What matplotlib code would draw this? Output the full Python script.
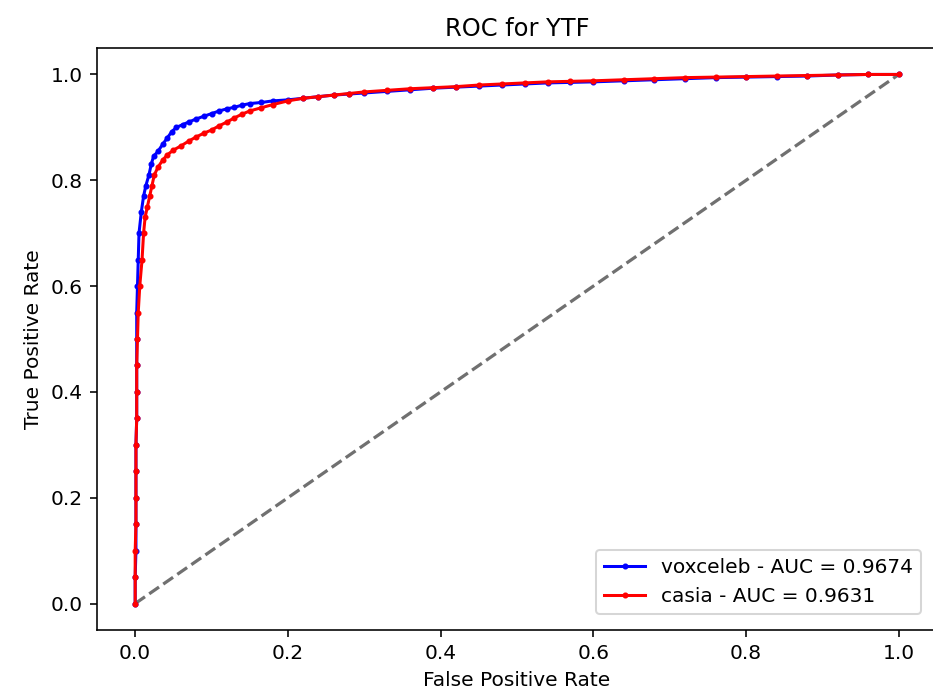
import matplotlib
matplotlib.use('Agg')
import matplotlib.pyplot as plt

# ROC points
vox_fpr = [0.000, 0.000, 0.001, 0.001, 0.001, 0.001, 0.001, 0.002, 0.002, 0.002,
           0.002, 0.002, 0.003, 0.004, 0.005, 0.008, 0.011, 0.014, 0.018, 0.021,
           0.024, 0.030, 0.036, 0.042, 0.048, 0.054, 0.062, 0.070, 0.080, 0.090,
           0.100, 0.110, 0.120, 0.130, 0.140, 0.150, 0.165, 0.180, 0.200, 0.220,
           0.240, 0.260, 0.280, 0.300, 0.330, 0.360, 0.390, 0.420, 0.450, 0.480,
           0.510, 0.540, 0.570, 0.600, 0.640, 0.680, 0.720, 0.760, 0.800, 0.840,
           0.880, 0.920, 0.960, 1.000]
vox_tpr = [0.000, 0.050, 0.100, 0.150, 0.200, 0.250, 0.300, 0.350, 0.400, 0.450,
           0.500, 0.550, 0.600, 0.650, 0.700, 0.740, 0.770, 0.790, 0.810, 0.830,
           0.845, 0.855, 0.868, 0.880, 0.892, 0.900, 0.905, 0.910, 0.916, 0.921,
           0.926, 0.931, 0.935, 0.938, 0.942, 0.945, 0.947, 0.950, 0.952, 0.955,
           0.958, 0.961, 0.963, 0.965, 0.968, 0.971, 0.974, 0.976, 0.978, 0.980,
           0.982, 0.984, 0.985, 0.986, 0.988, 0.990, 0.992, 0.994, 0.995, 0.996,
           0.997, 0.999, 1.000, 1.000]

casia_fpr = [0.000, 0.000, 0.000, 0.001, 0.001, 0.001, 0.001, 0.002, 0.002, 0.002,
             0.003, 0.004, 0.006, 0.009, 0.011, 0.013, 0.016, 0.019, 0.022, 0.025,
             0.030, 0.036, 0.042, 0.050, 0.060, 0.070, 0.080, 0.090, 0.100, 0.110,
             0.120, 0.130, 0.140, 0.150, 0.165, 0.180, 0.200, 0.220, 0.240, 0.260,
             0.280, 0.300, 0.330, 0.360, 0.390, 0.420, 0.450, 0.480, 0.510, 0.540,
             0.570, 0.600, 0.640, 0.680, 0.720, 0.760, 0.800, 0.840, 0.880, 0.920,
             0.960, 1.000]
casia_tpr = [0.000, 0.050, 0.100, 0.150, 0.200, 0.250, 0.300, 0.350, 0.400, 0.450,
             0.500, 0.550, 0.600, 0.650, 0.700, 0.730, 0.750, 0.770, 0.790, 0.810,
             0.825, 0.838, 0.848, 0.857, 0.865, 0.874, 0.882, 0.889, 0.895, 0.903,
             0.910, 0.918, 0.925, 0.931, 0.937, 0.943, 0.950, 0.955, 0.958, 0.961,
             0.964, 0.967, 0.970, 0.973, 0.975, 0.977, 0.980, 0.982, 0.984, 0.986,
             0.987, 0.988, 0.990, 0.992, 0.994, 0.995, 0.996, 0.997, 0.998, 0.999,
             1.000, 1.000]

vox_label = 'voxceleb - AUC = 0.9674'
casia_label = 'casia - AUC = 0.9631'

fig = plt.figure(figsize=(933 / 145, 694 / 145), dpi=145)
# the reference is cropped just before the right spine
ax = fig.add_axes([97 / 933, 64 / 694, 840 / 933, 582 / 694])
ax.spines['right'].set_visible(False)

ax.plot([0, 1], [0, 1], '--', color='#707070', lw=1.6)
ax.plot(vox_fpr, vox_tpr, '.-', color='blue', ms=4, label=vox_label)
ax.plot(casia_fpr, casia_tpr, '.-', color='red', ms=4, label=casia_label)

ax.set_xlim(-0.05, 1.05)
ax.set_ylim(-0.05, 1.05)
ax.set_title('ROC for YTF')
ax.set_xlabel('False Positive Rate')
ax.set_ylabel('True Positive Rate')
ax.legend(loc='lower right', borderaxespad=0.8)

fig.savefig('out.png', dpi=145)
